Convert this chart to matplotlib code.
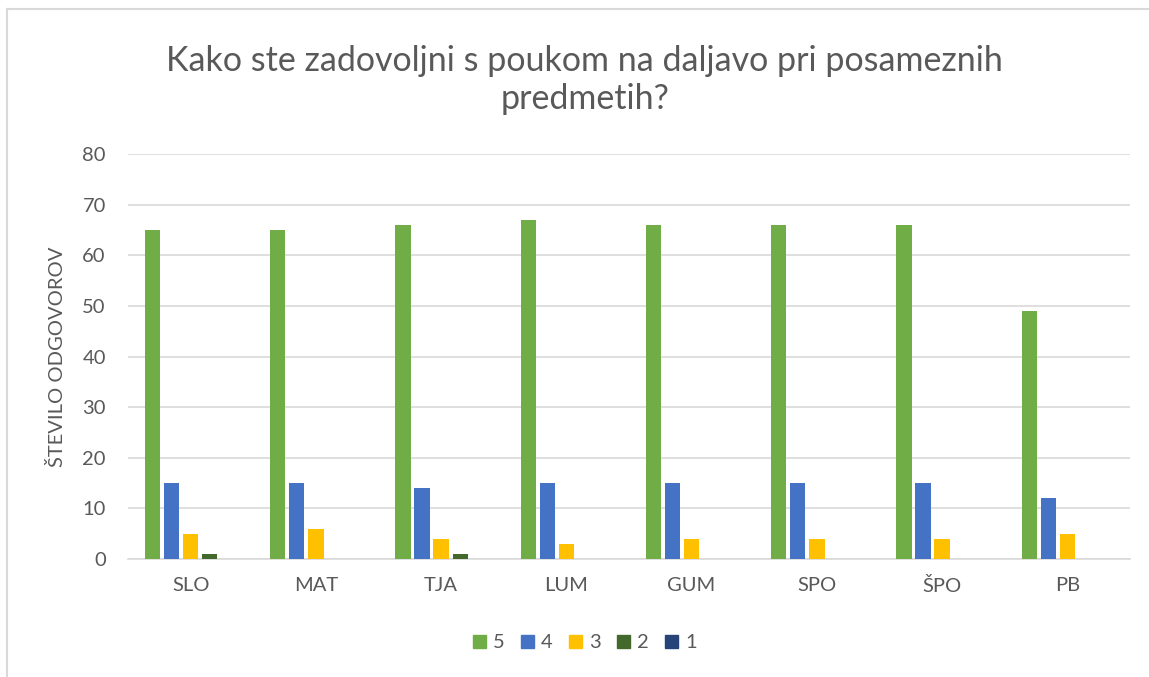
import matplotlib
matplotlib.use("Agg")
import matplotlib.pyplot as plt
import numpy as np
from matplotlib.lines import Line2D

categories = ["SLO", "MAT", "TJA", "LUM", "GUM", "SPO", "ŠPO", "PB"]
series_names = ["5", "4", "3", "2", "1"]
s5 = [65, 65, 66, 67, 66, 66, 66, 49]
s4 = [15, 15, 14, 15, 15, 15, 15, 12]
s3 = [5, 6, 4, 3, 4, 4, 4, 5]
s2 = [1, 0, 1, 0, 0, 0, 0, 0]
s1 = [0, 0, 0, 0, 0, 0, 0, 0]
colors = ["#70AD47", "#4472C4", "#FFC000", "#43682B", "#264478"]

plt.rcParams['font.family'] = ['Lato', 'DejaVu Sans']

fig = plt.figure(figsize=(11.49, 6.77), dpi=100)
ax = fig.add_axes([128/1149, 1-559/677, (1130-128)/1149, (559-154)/677])

x = np.arange(len(categories))
pitch = 0.152
width = 0.122
for i, (vals, name, c) in enumerate(zip([s5, s4, s3, s2, s1], series_names, colors)):
    ax.bar(x + (i - 2) * pitch, vals, width, color=c, label=name, zorder=3)

ax.set_xlim(-0.5, len(categories) - 0.5)
ax.set_ylim(0, 80)
ax.set_yticks(range(0, 81, 10))
ax.set_xticks(x)
ax.set_xticklabels(categories)
ax.grid(axis='y', color='#D9D9D9', linewidth=1.2, zorder=0)
for s in ['top', 'right', 'left']:
    ax.spines[s].set_visible(False)
ax.spines['bottom'].set_color('#D9D9D9')
ax.spines['bottom'].set_linewidth(1.2)
ax.tick_params(axis='both', length=0, colors='#595959', labelsize=14.5)
ax.tick_params(axis='y', pad=16)
ax.tick_params(axis='x', pad=13)

ax.set_ylabel("ŠTEVILO ODGOVOROV", fontsize=14.5, color='#595959', labelpad=12)

fig.text(0.509, 1-80/677, "Kako ste zadovoljni s poukom na daljavo pri posameznih\npredmetih?",
         ha='center', va='center', fontsize=24.5, color='#595959', linespacing=1.2)

handles = [plt.Rectangle((0, 0), 1, 1, color=c) for c in colors]
fig.legend(handles, series_names, loc='center', bbox_to_anchor=(0.509, 1-643/677),
           ncol=5, frameon=False, fontsize=14.5, handlelength=0.65, handleheight=0.65,
           handletextpad=0.35, columnspacing=0.8, labelcolor='#595959')

# chart frame (left and top edges visible)
fig.add_artist(Line2D([7/1149, 7/1149], [0, 1-9/677], transform=fig.transFigure, color='#D9D9D9', linewidth=1.5))
fig.add_artist(Line2D([7/1149, 1], [1-9/677, 1-9/677], transform=fig.transFigure, color='#D9D9D9', linewidth=1.5))

fig.savefig("out.png", dpi=100)
